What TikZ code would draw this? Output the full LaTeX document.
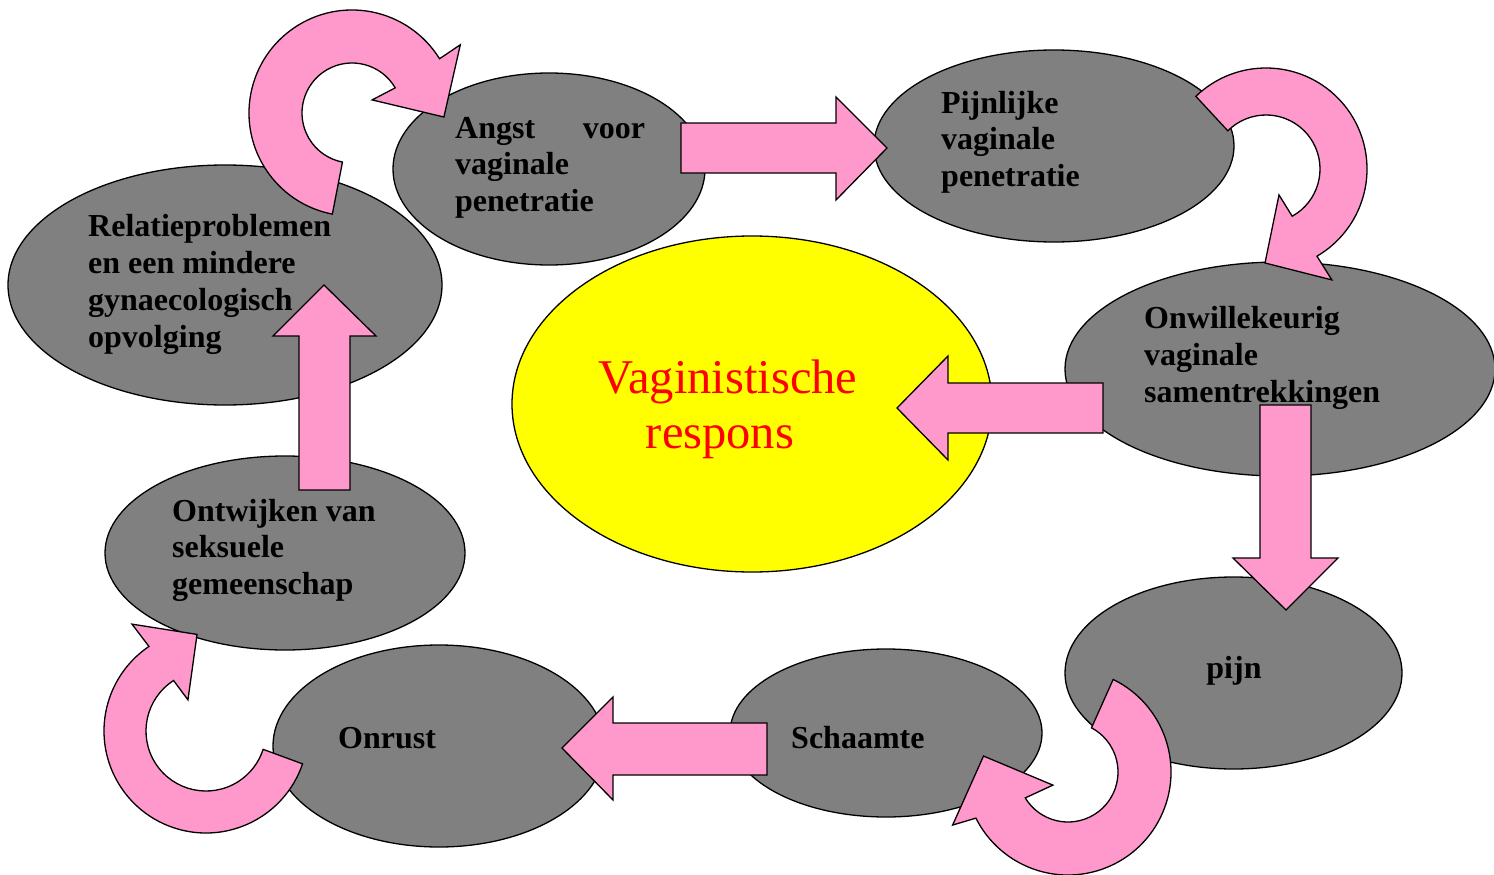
\documentclass[tikz,border=0pt]{standalone}
\usepackage{fontspec}
\setmainfont{Liberation Serif}
\usetikzlibrary{shapes.geometric}
\definecolor{grayc}{RGB}{128,128,128}
\definecolor{pinkc}{RGB}{255,153,204}
\definecolor{yellowc}{RGB}{255,255,0}
\definecolor{redc}{RGB}{255,0,0}
\tikzset{
  gell/.style={ellipse, draw=black, fill=grayc, line width=1.3pt, inner sep=0pt},
  yell/.style={ellipse, draw=black, fill=yellowc, line width=1.3pt, inner sep=0pt},
  blockarrow/.style={draw=black, fill=pinkc, line width=1.3pt, line join=miter},
  lbl/.style={font=\fontsize{32}{36.7}\selectfont\bfseries, align=left, inner sep=0pt, anchor=base west, text=black},
  bigred/.style={font=\fontsize{48.5}{55}\selectfont, align=center, inner sep=0pt, anchor=base, text=redc}
}
\begin{document}
\begin{tikzpicture}[x=1pt,y=1pt]
\fill[white] (0,0) rectangle (1494,-875);
\useasboundingbox (0,0) rectangle (1494,-875);
\clip (0,0) rectangle (1494,-875);

% ellipses
\node[gell, minimum width=434pt, minimum height=240pt] (relatie) at (225,-285) {};
\node[gell, minimum width=312pt, minimum height=192pt] (angst) at (549,-169) {};
\node[gell, minimum width=360pt, minimum height=192pt] (pijnlijke) at (1054,-146) {};
\node[gell, minimum width=430pt, minimum height=214pt] (onwil) at (1280,-369) {};
\node[gell, minimum width=337pt, minimum height=192pt] (pijn) at (1233.5,-673) {};
\node[gell, minimum width=312pt, minimum height=168pt] (schaamte) at (886,-733) {};
\node[gell, minimum width=332pt, minimum height=202pt] (onrust) at (439,-746) {};
\node[gell, minimum width=360pt, minimum height=194pt] (ontwijken) at (285,-553) {};
\node[yell, minimum width=480pt, minimum height=336pt] (vag) at (752,-404) {};

% straight block arrows
\draw[blockarrow] (681,-123) -- (836,-123) -- (836,-97) -- (887,-148) -- (836,-200) -- (836,-173) -- (681,-173) -- cycle;
\draw[blockarrow] (1103,-383) -- (948,-383) -- (948,-356) -- (897,-408) -- (948,-460) -- (948,-433) -- (1103,-433) -- cycle;
\draw[blockarrow] (1260,-405) -- (1311,-405) -- (1311,-558) -- (1338,-558) -- (1286,-610) -- (1233,-558) -- (1260,-558) -- cycle;
\draw[blockarrow] (767,-723) -- (613,-723) -- (613,-697) -- (562,-748) -- (613,-800) -- (613,-775) -- (767,-775) -- cycle;
\draw[blockarrow] (299,-490) -- (350,-490) -- (350,-336) -- (376,-336) -- (324,-285) -- (273,-336) -- (299,-336) -- cycle;

% curved arrows
\begin{scope}[shift={(352,-113)}]
\draw[blockarrow] (259:103) arc[start angle=259, end angle=31.8, radius=103] -- (32.2:128) -- (-2.5:92) -- (33:24) -- (30.2:50) arc[start angle=30.2, end angle=259, radius=50] -- cycle;
\end{scope}
\begin{scope}[shift={(1266,-169)}]
\draw[blockarrow] (134:101) arc[start angle=134, end angle=-59.7, radius=101] -- (-59.3:129) -- (-90.6:94) -- (-63.4:29) -- (-61:54) arc[start angle=-61, end angle=135, radius=54] -- cycle;
\end{scope}
\begin{scope}[shift={(1068,-772)}]
\draw[blockarrow] (64:103) arc[start angle=64, end angle=-153.4, radius=103] -- (-155.3:127) -- (-190.7:86) -- (-139:20) -- (-148.8:50) arc[start angle=-148.8, end angle=62, radius=50] -- cycle;
\end{scope}
\begin{scope}[shift={(206,-731)}]
\draw[blockarrow] (-18.8:102) arc[start angle=-18.8, end angle=-236, radius=102] -- (-235.3:130) -- (-264.7:97) -- (-239.9:36) -- (-237.3:60) arc[start angle=-237.3, end angle=-17.8, radius=60] -- cycle;
\end{scope}

% texts (anchored at the baseline of the last line)
\node[lbl] (tangst) at (455,-211.4) {\makebox[190pt][s]{Angst voor}\\vaginale\\penetratie};
\node[lbl] (tpijnlijke) at (941,-186.4) {Pijnlijke\\vaginale\\penetratie};
\node[lbl] (trelatie) at (88,-347) {Relatieproblemen\\en een mindere\\gynaecologisch\\opvolging};
\node[lbl] (tonwil) at (1144,-402) {Onwillekeurig\\vaginale\\samentrekkingen};
\node[lbl, anchor=base] (tpijn) at (1234,-678) {pijn};
\node[lbl] (tschaamte) at (791,-748) {Schaamte};
\node[lbl] (tonrust) at (338,-748) {Onrust};
\node[lbl] (tontwijken) at (172,-594.4) {Ontwijken van\\seksuele\\gemeenschap};
\node[bigred] (tvag) at (728,-448) {Vaginistische\\respons\hspace*{16pt}};
\end{tikzpicture}
\end{document}
